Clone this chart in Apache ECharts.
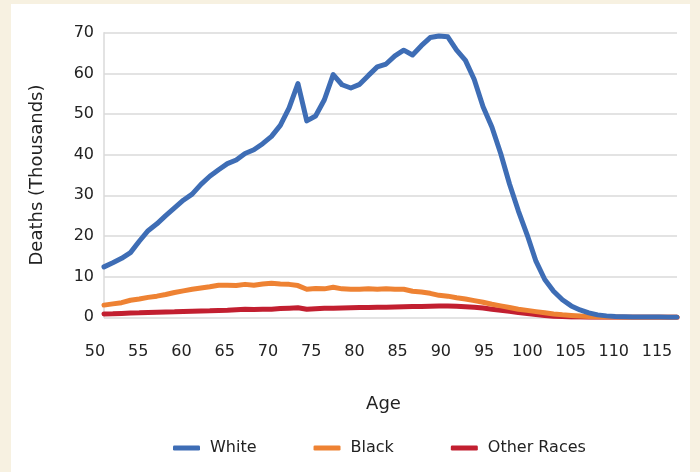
<!DOCTYPE html>
<html>
<head>
<meta charset="utf-8">
<script src="https://cdn.jsdelivr.net/npm/echarts@6/dist/echarts.min.js"></script>
<style>
  html, body { margin: 0; padding: 0; background: #f7f1e1; }
  #panel { position: absolute; left: 11px; top: 4px; width: 679px; height: 468px; background: #fff; }
  #main { position: absolute; left: 0; top: 0; width: 700px; height: 472px; }
</style>
</head>
<body>
<div id="panel"></div>
<div id="main"></div>
<script>
// ages on the x axis
const ages = [50, 51, 52, 53, 54, 55, 56, 57, 58, 59, 60, 61, 62, 63, 64, 65, 66, 67, 68, 69,
  70, 71, 72, 73, 74, 75, 76, 77, 78, 79, 80, 81, 82, 83, 84, 85, 86, 87, 88, 89,
  90, 91, 92, 93, 94, 95, 96, 97, 98, 99, 100, 101, 102, 103, 104, 105, 106, 107, 108, 109,
  110, 111, 112, 113, 114, 115]

// deaths in thousands
const white = [12.4, 13.4, 14.5, 15.9, 18.7, 21.3, 23.0, 25.0, 26.9, 28.8, 30.3, 32.7, 34.7, 36.3, 37.8, 38.7, 40.3, 41.2, 42.7, 44.5,
  47.2, 51.5, 57.5, 48.3, 49.5, 53.5, 59.7, 57.2, 56.4, 57.3, 59.5, 61.6, 62.3, 64.3, 65.7, 64.5, 66.8, 68.8, 69.2, 69.0,
  65.7, 63.2, 58.5, 51.8, 46.8, 40.3, 32.8, 26.2, 20.3, 13.8, 9.3, 6.4, 4.3, 2.8, 1.8, 1.1, 0.6, 0.35, 0.2, 0.15,
  0.1, 0.08, 0.06, 0.05, 0.04, 0.03]
const black = [3.0, 3.3, 3.6, 4.2, 4.5, 4.9, 5.2, 5.6, 6.1, 6.5, 6.9, 7.2, 7.5, 7.9, 7.9, 7.8, 8.1, 7.9, 8.2, 8.4,
  8.2, 8.1, 7.8, 6.9, 7.1, 7.0, 7.4, 7.0, 6.9, 6.9, 7.0, 6.9, 7.0, 6.9, 6.9, 6.4, 6.2, 5.9, 5.4, 5.2,
  4.8, 4.5, 4.1, 3.7, 3.2, 2.8, 2.4, 2.0, 1.7, 1.4, 1.1, 0.8, 0.6, 0.45, 0.32, 0.22, 0.14, 0.09, 0.05, 0.03,
  0.02, 0.01, 0.01, 0, 0, 0]
const other = [0.8, 0.85, 0.95, 1.05, 1.1, 1.2, 1.25, 1.3, 1.35, 1.45, 1.5, 1.55, 1.6, 1.7, 1.75, 1.85, 1.95, 1.9, 2.0, 2.0,
  2.15, 2.25, 2.35, 2.0, 2.1, 2.2, 2.2, 2.3, 2.35, 2.4, 2.4, 2.5, 2.5, 2.55, 2.6, 2.65, 2.65, 2.7, 2.75, 2.75,
  2.7, 2.6, 2.5, 2.3, 2.0, 1.75, 1.5, 1.2, 0.95, 0.7, 0.45, 0.28, 0.17, 0.1, 0.06, 0.04, 0.03, 0.02, 0.01, 0.01,
  0, 0, 0, 0, 0, 0]

const seriesNames = ['White', 'Black', 'Other Races']
const seriesColors = ['#3e6db5', '#ee8233', '#c21f30']

const font = 'DejaVu Sans'
const textColor = '#222'
const gridColor = '#dadada'

const chart = echarts.init(document.getElementById('main'))

const makeLine = (name, vals, color, z) => ({
  name: name,
  type: 'line',
  xAxisIndex: 0,
  yAxisIndex: 0,
  data: ages.map((a, i) => [a, vals[i]]),
  showSymbol: false,
  z: z,
  lineStyle: { width: 5, color: color, cap: 'round', join: 'round' },
  itemStyle: { color: color }
})

const option = {
  animation: false,
  backgroundColor: 'transparent',
  textStyle: { fontFamily: font, color: textColor },
  grid: [
    // data area
    { left: 104, right: 23, top: 32.7, bottom: 154.7 },
    // grid used only for the age tick labels (they sit a little left of the data)
    { left: 95, right: 43, top: 32.7, bottom: 154.7 }
  ],
  xAxis: [
    {
      gridIndex: 0, type: 'value', min: 50, max: 115,
      axisLine: { show: false }, axisTick: { show: false },
      axisLabel: { show: false }, splitLine: { show: false },
      name: 'Age', nameLocation: 'middle', nameGap: 78,
      nameTextStyle: { fontSize: 18, color: textColor, fontFamily: font, padding: [0, 14, 0, 0] }
    },
    {
      gridIndex: 1, type: 'value', min: 50, max: 115, interval: 5,
      axisLine: { show: false }, axisTick: { show: false }, splitLine: { show: false },
      axisLabel: { fontSize: 16, color: textColor, fontFamily: font, margin: 27 }
    }
  ],
  yAxis: [
    {
      gridIndex: 0, type: 'value', min: 0, max: 70, interval: 10,
      axisLine: { show: true, lineStyle: { color: gridColor, width: 1.5 } },
      axisTick: { show: false },
      splitLine: { lineStyle: { color: gridColor, width: 1.5 } },
      axisLabel: { fontSize: 16, color: textColor, fontFamily: font, margin: 10 },
      name: 'Deaths (Thousands)', nameLocation: 'middle', nameGap: 58, nameRotate: 90,
      nameTextStyle: { fontSize: 18, color: textColor, fontFamily: font }
    },
    { gridIndex: 1, type: 'value', show: false }
  ],
  legend: {
    data: seriesNames,
    left: 168, top: 435,
    icon: 'roundRect',
    itemWidth: 27, itemHeight: 5,
    itemGap: 57,
    textStyle: { fontSize: 16, color: textColor, fontFamily: font, padding: [0, 0, 0, 5] }
  },
  series: [
    makeLine(seriesNames[2], other, seriesColors[2], 2),
    makeLine(seriesNames[1], black, seriesColors[1], 3),
    makeLine(seriesNames[0], white, seriesColors[0], 4)
  ]
}

chart.setOption(option)
</script>
</body>
</html>
